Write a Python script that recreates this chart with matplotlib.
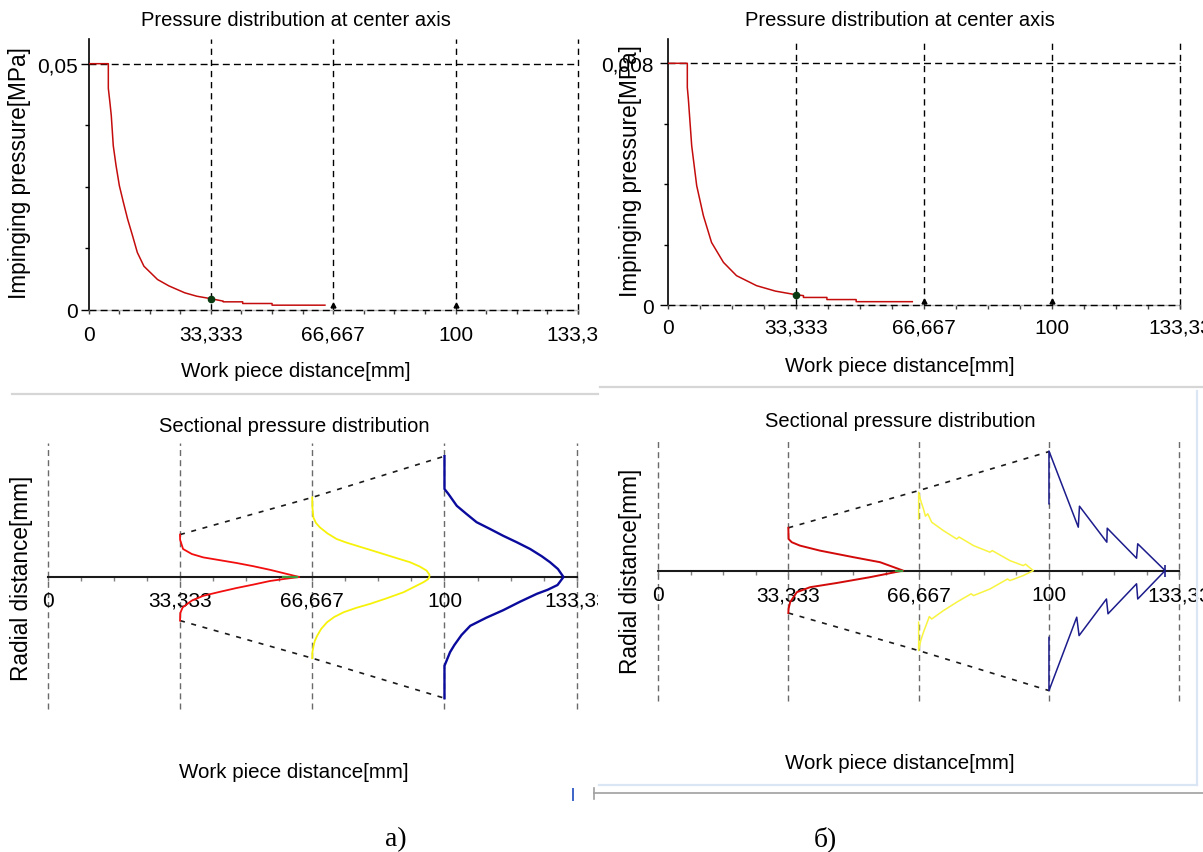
import matplotlib
matplotlib.use("Agg")
import matplotlib.pyplot as plt
from matplotlib.lines import Line2D
from matplotlib.patches import Rectangle
from matplotlib.ticker import MultipleLocator

plt.rcParams['font.family'] = ['Liberation Sans', 'DejaVu Sans']

# ---------------- data ----------------
x_ticks = [0, 33.333, 66.667, 100, 133.33]
x_tick_labels = ["0", "33,333", "66,667", "100", "133,33"]
stations = [33.333, 66.667, 100]

# centre-axis pressure, case a)
dist_a = [0, 5.4, 5.4, 5.85, 6.2, 6.75, 7.5, 8.4, 9.5, 10.65, 12.0, 13.3, 15.1, 18.8,
          21.9, 26.2, 29.5, 33.333, 36.7, 36.7, 42.0, 42.0, 50.0, 50.0, 64.4]
pres_a = [0.05, 0.05, 0.045, 0.042, 0.0395, 0.0333, 0.0293, 0.0252, 0.0218, 0.0184,
          0.0150, 0.0116, 0.0088, 0.0061, 0.0048, 0.0034, 0.0027, 0.0022, 0.0017,
          0.00156, 0.00156, 0.00122, 0.00122, 0.00088, 0.00088]
pts_pres_a = [0.0022, 0.0009, 0.0009]

# centre-axis pressure, case б)
dist_b = [0, 5.1, 5.1, 5.37, 6.24, 7.54, 9.27, 11.4, 14.5, 17.9, 23.1, 28.0, 33.333,
          35.3, 35.3, 41.4, 41.4, 49.0, 49.0, 63.6]
pres_b = [0.008, 0.008, 0.0072, 0.00682, 0.00527, 0.00395, 0.00296, 0.00207, 0.00141,
          0.00097, 0.00064, 0.00046, 0.00034, 0.00031, 0.00025, 0.00025, 0.00018,
          0.00018, 0.00011, 0.00011]
pts_pres_b = [0.00034, 0.00014, 0.00014]

# sectional distributions, case a)   (x = work piece distance, r = radial distance)
env_up_a = [10.6, 19.9, 30.2]
env_low_a = [-10.9, -20.3, -30.3]
red_a_x = [33.333, 33.35, 34.1, 36.3, 39.2, 43.4, 47.6, 51.8, 56.0, 59.7, 63.4,
           59.5, 56.0, 51.8, 47.6, 43.4, 39.2, 36.3, 34.0, 33.4, 33.333]
red_a_r = [10.6, 9.3, 7.0, 5.75, 4.9, 4.2, 3.5, 2.7, 1.8, 0.9, 0.0,
           -0.5, -1.0, -1.9, -2.75, -3.7, -4.7, -5.9, -7.6, -9.0, -10.9]
yel_a_x = [66.667, 66.7, 66.95, 67.6, 68.6, 70.5, 72.8, 75.3, 77.9, 81.2, 84.6, 88.0, 91.3,
           93.8, 95.5, 96.2, 96.2, 95.8, 94.7, 92.3, 89.7, 85.5, 81.3, 77.8, 74.6, 72.2,
           70.4, 68.9, 67.9, 67.3, 67.0, 66.7, 66.667]
yel_a_r = [19.9, 17.5, 14.9, 13.5, 12.4, 10.9, 9.5, 8.6, 7.8, 6.8, 5.75, 4.7, 3.7,
           2.6, 1.6, 0.6, 0.0, -0.6, -1.3, -2.5, -3.8, -5.3, -6.7, -7.7, -8.8, -10.0,
           -11.3, -13.0, -14.7, -16.0, -17.2, -18.8, -20.3]
blu_a_x = [100, 100, 101.0, 103.1, 105.5, 108.1, 111.5, 114.8, 118.2, 121.6, 124.5, 126.6,
           128.6, 130.0, 128.5, 126.0, 123.3, 119.0, 114.8, 110.5, 106.5, 104.3, 102.5,
           101.4, 100.5, 100, 100]
blu_a_r = [30.2, 22.0, 20.75, 17.8, 15.8, 13.7, 12.0, 10.3, 8.7, 7.0, 5.2, 3.7,
           2.0, 0.0, -2.0, -3.2, -4.2, -6.2, -8.3, -10.2, -12.2, -14.5, -17.0,
           -18.8, -21.0, -22.2, -30.3]
green_a_x = [59.3, 62.8]

# sectional distributions, case б)
env_up_b = [10.7, 20.0, 29.75]
env_low_b = [-10.6, -20.0, -30.0]
red_b_x = [33.333, 33.4, 34.2, 36.3, 41.4, 50.0, 56.8, 62.7, 54.2, 45.7, 38.9, 35.5, 33.8, 33.4, 33.333]
red_b_r = [10.7, 7.9, 7.1, 6.25, 5.0, 3.35, 2.1, 0.0, -1.65, -3.1, -4.15, -5.4, -7.9, -9.5, -10.6]
yel_b_x = [66.667, 66.667, 67.2, 67.9, 68.4, 69.0, 70.0, 73.0, 76.4, 77.0, 80.7, 84.9, 85.5,
           90.0, 93.4, 94.0, 96.0, 93.4, 90.0, 89.4, 84.9, 80.7, 80.1, 76.4, 73.0, 70.0,
           69.4, 67.9, 67.2, 66.667, 66.667]
yel_b_r = [12.9, 19.6, 17.5, 15.4, 13.6, 14.2, 12.1, 10.0, 7.9, 8.4, 6.25, 4.6, 5.0, 2.5,
           1.25, 1.6, 0.0, -1.25, -2.5, -2.1, -4.6, -6.25, -5.8, -7.9, -10.0, -12.1, -11.5,
           -15.4, -17.5, -20.0, -12.9]
blu_b_x = [100, 100, 107.5, 107.8, 114.8, 114.9, 122.4, 122.7, 129.7, 122.7, 122.4, 115.1,
           114.7, 107.7, 107.1, 100, 100]
blu_b_r = [16.7, 29.9, 10.85, 16.1, 7.1, 10.6, 3.1, 6.7, 0.0, -7.1, -3.3, -10.8, -7.1,
           -16.25, -11.65, -30.0, -16.7]
green_b_x = [61.0, 62.3]

# ---------------- figure ----------------
W, H = 1203, 853
fig = plt.figure(figsize=(W / 100, H / 100), dpi=100)
fig.patch.set_facecolor('white')


def rect(left, top, right, bottom):
    return [left / W, 1 - bottom / H, (right - left) / W, (bottom - top) / H]


def ftext(x, y, s, **kw):
    fig.text(x / W, 1 - y / H, s, **kw)


def fline(xs, ys, **kw):
    fig.add_artist(Line2D([v / W for v in xs], [1 - v / H for v in ys],
                          transform=fig.transFigure, **kw))


def center_panel(box, dist, pres, ytop, ymajor, ylabels, yminor, pts, xpad, ypad):
    ax = fig.add_axes(rect(*box))
    ax.set_xlim(0, 133.333)
    ax.set_ylim(0, ytop)
    for s in ['top', 'right']:
        ax.spines[s].set_visible(False)
    ax.spines['left'].set_color('black')
    ax.spines['left'].set_linewidth(1.2)
    ax.spines['bottom'].set_color('#b8b8b8')
    ax.spines['bottom'].set_linewidth(1.0)
    ax.set_xticks(x_ticks)
    ax.set_xticklabels(x_tick_labels)
    ax.xaxis.set_minor_locator(MultipleLocator(133.333 / 16))
    ax.set_yticks(ymajor)
    ax.set_yticklabels(ylabels)
    ax.set_yticks(yminor, minor=True)
    ax.tick_params(axis='x', which='both', direction='out', length=3, width=1,
                   color='#404040', pad=xpad, labelsize=15)
    ax.tick_params(axis='y', which='major', direction='out', length=5.5, width=1,
                   color='black', pad=ypad, labelsize=15)
    ax.tick_params(axis='y', which='minor', direction='out', length=3, width=1, color='black')
    for xv in x_ticks[1:]:
        ax.axvline(xv, color='black', lw=1.0, ls=(0, (4.5, 3.5)), zorder=1, clip_on=False)
    for yv in ymajor:
        ax.axhline(yv, color='black', lw=1.0, ls=(0, (5, 3)), zorder=2.6, clip_on=False)
    ax.plot(dist, pres, color='#c40c0c', lw=1.1, zorder=3)
    ax.plot(stations[:1], pts[:1], 'o', color='#0a3a12', ms=4.5, zorder=4)
    ax.plot(stations[1:], pts[1:], '^', color='black', ms=3.5, zorder=4)
    return ax


def section_panel(box, ylim, env_up, env_low, profiles, green_x, peak_mark, xpad):
    ax = fig.add_axes(rect(*box))
    ax.set_xlim(0, 133.333)
    ax.set_ylim(*ylim)
    for s in ['top', 'right', 'left']:
        ax.spines[s].set_visible(False)
    ax.spines['bottom'].set_position(('data', 0))
    ax.spines['bottom'].set_color('#1a1a1a')
    ax.spines['bottom'].set_linewidth(1.5)
    ax.spines['bottom'].set_zorder(2.5)
    ax.set_xticks(x_ticks)
    ax.set_xticklabels(x_tick_labels)
    ax.xaxis.set_minor_locator(MultipleLocator(133.333 / 16))
    ax.tick_params(axis='x', which='both', direction='out', length=3, width=1,
                   color='#808080', pad=xpad, labelsize=15)
    ax.tick_params(axis='y', left=False, labelleft=False)
    for xv in x_ticks:
        ax.axvline(xv, color='#6a6a6a', lw=1.0, ls=(0, (4.3, 3.0)), zorder=1, clip_on=False)
    ax.plot(stations, env_up, color='#1a1a1a', lw=1.2, ls=(0, (3, 4)), zorder=2)
    ax.plot(stations, env_low, color='#1a1a1a', lw=1.2, ls=(0, (3, 4)), zorder=2)
    for xs, rs, col, lw in profiles:
        ax.plot(xs, rs, color=col, lw=lw, zorder=3)
    ax.plot(green_x, [0, 0], color='#3c9c3c', lw=1.6, zorder=3.5)
    if peak_mark is not None:
        ax.plot([peak_mark[0]], [0], marker='|', ms=9, mew=1.2, color=peak_mark[1], zorder=4)
    return ax


# top-left: centre axis, a)
center_panel((88.5, 40, 578, 310.5), dist_a, pres_a, 0.05502, [0, 0.05], ["0", "0,05"],
             [0.0125, 0.025, 0.0375], pts_pres_a, xpad=8.0, ypad=2.3)
# top-right: centre axis, б)
center_panel((667.7, 40, 1180.5, 306), dist_b, pres_b, 0.008804, [0, 0.008], ["0", "0,008"],
             [0.002, 0.004, 0.006], pts_pres_b, xpad=6.3, ypad=4.3)

# bottom-left: sectional, a)
section_panel((47.8, 444, 576.7, 710), (-33.0, 33.5), env_up_a, env_low_a,
              [(red_a_x, red_a_r, '#f20e0e', 1.3),
               (yel_a_x, yel_a_r, '#f6f20a', 1.3),
               (blu_a_x, blu_a_r, '#0a0a9c', 1.7)],
              green_a_x, None, xpad=6.8)
# bottom-right: sectional, б)
section_panel((658, 440, 1179.3, 702), (-32.6, 32.9), env_up_b, env_low_b,
              [(red_b_x, red_b_r, '#d20a0a', 1.4),
               (yel_b_x, yel_b_r, '#f8f440', 1.1),
               (blu_b_x, blu_b_r, '#1c1c8c', 1.1)],
              green_b_x, (129.7, '#1c1c8c'), xpad=7.6)

# clip the right-most tick labels of the left panels
fig.add_artist(Rectangle((598 / W, 1 - 350 / H), 14 / W, 30 / H, transform=fig.transFigure,
                         facecolor='white', edgecolor='none', zorder=10))
fig.add_artist(Rectangle((598 / W, 1 - 615 / H), 14 / W, 30 / H, transform=fig.transFigure,
                         facecolor='white', edgecolor='none', zorder=10))

# texts
title_kw = dict(ha='center', va='baseline', fontsize=14.5, color='black')
ftext(296, 26, "Pressure distribution at center axis", **title_kw)
ftext(900, 26, "Pressure distribution at center axis", **title_kw)
ftext(294, 432, "Sectional pressure distribution", **title_kw)
ftext(900, 427, "Sectional pressure distribution", **title_kw)
xl_kw = dict(ha='center', va='baseline', fontsize=14.8, color='black')
ftext(296, 377, "Work piece distance[mm]", **xl_kw)
ftext(900, 372, "Work piece distance[mm]", **xl_kw)
ftext(294, 778, "Work piece distance[mm]", **xl_kw)
ftext(900, 769, "Work piece distance[mm]", **xl_kw)
yl_kw = dict(ha='center', va='center', rotation=90, fontsize=16.3, color='black', zorder=11)
ftext(19.5, 173, "Impinging pressure[MPa]", **yl_kw)
ftext(631, 171, "Impinging pressure[MPa]", **yl_kw)
ftext(22, 578, "Radial distance[mm]", **yl_kw)
ftext(631, 571, "Radial distance[mm]", **yl_kw)
cap_kw = dict(ha='center', va='baseline', fontsize=20, family='Liberation Serif', color='black')
ftext(396, 846, "a)", **cap_kw)
ftext(825, 846, "б)", **cap_kw)

# window borders / separators
fline([12, 598], [395, 395], color='#d6d6d6', lw=1.6)
fline([600, 1203], [388, 388], color='#d6d6d6', lw=1.6)
fline([1197, 1197], [392, 786], color='#dbe6f4', lw=1.6)
fline([599, 1197], [786, 786], color='#dbe6f4', lw=1.6)
fline([594, 1203], [794, 794], color='#a0a0a0', lw=1.2)
fline([594, 594], [789, 800], color='#a0a0a0', lw=1.2)
fline([573, 573], [790, 801], color='#3c64c8', lw=1.4)

fig.savefig("out.png", dpi=100, facecolor='white')
